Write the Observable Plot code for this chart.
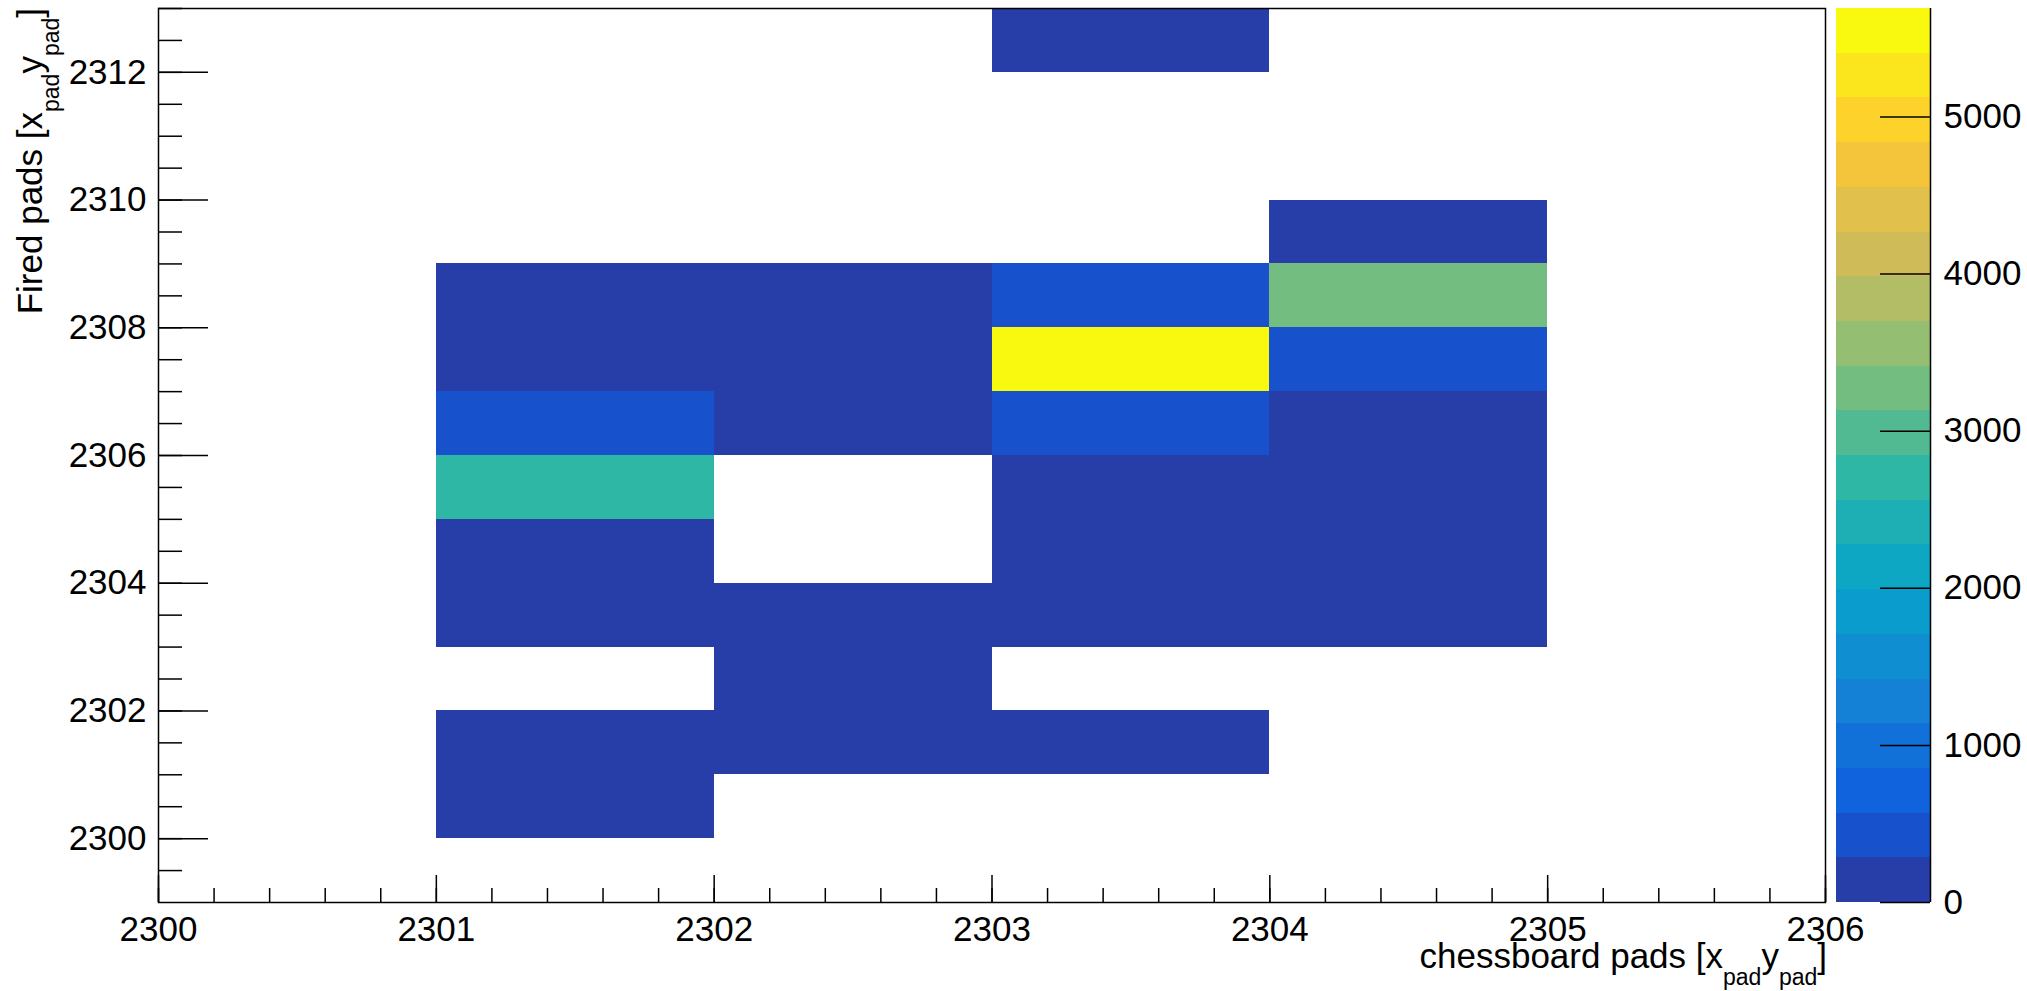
<!DOCTYPE html>
<html>
<head>
<meta charset="utf-8">
<script src="https://cdn.jsdelivr.net/npm/d3@7"></script>
<script src="https://cdn.jsdelivr.net/npm/@observablehq/plot@0.6"></script>
<style>
  html, body { margin: 0; padding: 0; background: #fff; }
  #chart { position: relative; width: 2027px; height: 991px; overflow: hidden; }
  #chart svg { position: absolute; top: 0; overflow: visible !important; }
</style>
</head>
<body>
<div id="chart"></div>
<script>
// ---- Data: bin lower edges (x, y) and bin contents ----
const padX = [
  2303,
  2304,
  2301, 2302, 2303, 2304,
  2301, 2302, 2303, 2304,
  2301, 2302, 2303, 2304,
  2301, 2303, 2304,
  2301, 2303, 2304,
  2301, 2302, 2303, 2304,
  2302,
  2301, 2302, 2303,
  2301
];
const padY = [
  2312,
  2309,
  2308, 2308, 2308, 2308,
  2307, 2307, 2307, 2307,
  2306, 2306, 2306, 2306,
  2305, 2305, 2305,
  2304, 2304, 2304,
  2303, 2303, 2303, 2303,
  2302,
  2301, 2301, 2301,
  2300
];
const counts = [
  150,
  150,
  150, 150, 420, 3250,
  150, 150, 5690, 420,
  420, 150, 420, 150,
  2700, 150, 150,
  150, 150, 150,
  150, 150, 150, 150,
  150,
  150, 150, 150,
  150
];

// ---- Axes / tick labels ----
const xTickLabels = [2300, 2301, 2302, 2303, 2304, 2305, 2306];
const yTickLabels = [2300, 2302, 2304, 2306, 2308, 2310, 2312];
const zTickLabels = [0, 1000, 2000, 3000, 4000, 5000];
const xDomain = [2300, 2306];
const yDomain = [2299, 2313];
const xTitle = ["chessboard pads [x", "pad", "y", "pad", "]"];
const yTitle = ["Fired pads [x", "pad", "y", "pad", "]"];

// ---- Style: ROOT kBird palette, 20 contour levels ----
const birdStops = [0.0000, 0.1250, 0.2500, 0.3750, 0.5000, 0.6250, 0.7500, 0.8750, 1.0000];
const birdRed   = [0.2082, 0.0592, 0.0780, 0.0232, 0.1802, 0.5301, 0.8186, 0.9956, 0.9764];
const birdGreen = [0.1664, 0.3599, 0.5041, 0.6419, 0.7178, 0.7492, 0.7328, 0.7862, 0.9832];
const birdBlue  = [0.5293, 0.8684, 0.8385, 0.7914, 0.6425, 0.4662, 0.3499, 0.1968, 0.0539];
const nContours = 20;
const nPalette = 255;

function bird(t) {
  let g = 0;
  while (g < birdStops.length - 2 && t > birdStops[g + 1]) g++;
  const f = (t - birdStops[g]) / (birdStops[g + 1] - birdStops[g]);
  const c = (a) => Math.round(255 * (a[g] + (a[g + 1] - a[g]) * f));
  return d3.rgb(c(birdRed), c(birdGreen), c(birdBlue)).formatHex();
}
const bandColors = d3.range(nContours).map(k =>
  bird(Math.floor((k + 0.99) * nPalette / nContours) / nPalette));

const zMax = d3.max(counts);
const zThresholds = d3.range(1, nContours).map(k => k * zMax / nContours);
const colorScale = { type: "threshold", domain: zThresholds, range: bandColors };

const FONT = "'Liberation Sans', Arial, Helvetica, sans-serif";
const FS = 35;

const cells = padX.map((x, i) => ({ x, y: padY[i], n: counts[i] }));

// ---- Main plot geometry ----
const W = 1830, H = 991, mL = 158, mR = 5, mT = 8, mB = 89;
const innerW = W - mL - mR, innerH = H - mT - mB;
const xMajorLen = 27, xMinorLen = 14, yMajorLen = 50, yMinorLen = 24;
const xMinor = d3.range(0, 31).map(i => xDomain[0] + i * 0.2);
const yMinor = d3.range(0, 28).map(i => yDomain[0] + 0.5 + i * 0.5);

const main = Plot.plot({
  width: W, height: H,
  marginLeft: mL, marginRight: mR, marginTop: mT, marginBottom: mB,
  style: { fontFamily: FONT, background: "transparent", color: "black", overflow: "visible" },
  x: { domain: xDomain },
  y: { domain: yDomain },
  color: colorScale,
  marks: [
    Plot.rect(cells, {
      x1: "x", x2: d => d.x + 1, y1: "y", y2: d => d.y + 1,
      fill: "n", shapeRendering: "crispEdges"
    }),
    Plot.ruleX(xMinor, { x: d => d, insetTop: innerH - xMinorLen, stroke: "black", strokeWidth: 1.5 }),
    Plot.ruleX(xTickLabels, { x: d => d, insetTop: innerH - xMajorLen, stroke: "black", strokeWidth: 1.5 }),
    Plot.ruleY(yMinor, { y: d => d, insetRight: innerW - yMinorLen, stroke: "black", strokeWidth: 1.5 }),
    Plot.ruleY(yTickLabels, { y: d => d, insetRight: innerW - yMajorLen, stroke: "black", strokeWidth: 1.5 }),
    Plot.frame({ stroke: "black", strokeWidth: 1.5 }),
    Plot.axisX(xTickLabels, { tickSize: 0, tickPadding: 14, fontSize: FS, tickFormat: d => String(d), label: null }),
    Plot.axisY(yTickLabels, { tickSize: 0, tickPadding: 12, fontSize: FS, tickFormat: d => String(d), label: null })
  ]
});
main.style.left = "0px";
document.getElementById("chart").appendChild(main);

// Axis titles with subscripts
const svgMain = d3.select(main);
function addTitle(sel, parts) {
  const subFs = 23, drop = 17;
  sel.append("tspan").text(parts[0]);
  sel.append("tspan").attr("font-size", subFs).attr("dy", drop).text(parts[1]);
  sel.append("tspan").attr("dy", -drop).text(parts[2]);
  sel.append("tspan").attr("font-size", subFs).attr("dy", drop).text(parts[3]);
  sel.append("tspan").attr("dy", -drop).text(parts[4]);
}
const xt = svgMain.append("text")
  .attr("x", W - 3).attr("y", 968)
  .attr("text-anchor", "end")
  .attr("font-family", FONT).attr("font-size", FS).attr("fill", "black");
addTitle(xt, xTitle);
const yt = svgMain.append("text")
  .attr("transform", `translate(42,${mT}) rotate(-90)`)
  .attr("text-anchor", "end")
  .attr("font-family", FONT).attr("font-size", FS).attr("fill", "black");
addTitle(yt, yTitle);

// ---- Colour bar ----
const bands = d3.range(nContours).map(k => ({
  lo: k * zMax / nContours, hi: (k + 1) * zMax / nContours
}));
const cbLeft = 1830, cbW = 2027 - cbLeft, cbML = 6, cbMR = 97;
const cbInner = cbW - cbML - cbMR;
const bar = Plot.plot({
  width: cbW, height: H,
  marginLeft: cbML, marginRight: cbMR, marginTop: mT, marginBottom: mB,
  style: { fontFamily: FONT, background: "transparent", color: "black", overflow: "visible" },
  x: { domain: [0, 1], axis: null },
  y: { domain: [0, zMax] },
  color: colorScale,
  marks: [
    Plot.rect(bands, {
      x1: () => 0, x2: () => 1, y1: "lo", y2: "hi",
      fill: d => (d.lo + d.hi) / 2, shapeRendering: "crispEdges"
    }),
    Plot.ruleY(zTickLabels, { y: d => d, insetLeft: cbInner - 50, stroke: "black", strokeWidth: 1.5 }),
    Plot.ruleX([1], { x: d => d, stroke: "black", strokeWidth: 1.5 }),
    Plot.axisY(zTickLabels, { anchor: "right", tickSize: 0, tickPadding: 13, fontSize: FS, tickFormat: d => String(d), label: null })
  ]
});
bar.style.left = cbLeft + "px";
document.getElementById("chart").appendChild(bar);
</script>
</body>
</html>
